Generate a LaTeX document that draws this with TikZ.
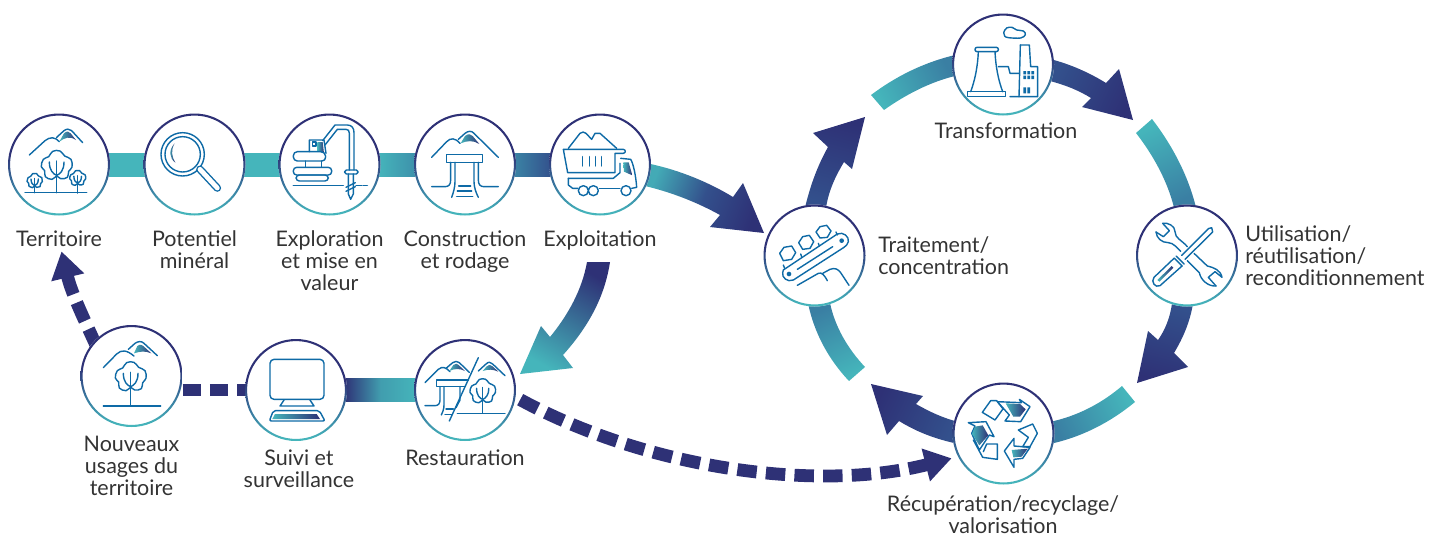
\documentclass[tikz,border=0pt]{standalone}
\usepackage{fontspec}
\setmainfont{Lato}
\usetikzlibrary{calc,backgrounds,arrows.meta}
\definecolor{navyc}{HTML}{2E3176}
\definecolor{tealc}{HTML}{45B5BB}
\definecolor{midc}{HTML}{3A7FA3}
\definecolor{darkc}{HTML}{33508C}
\definecolor{icob}{HTML}{0E6AA6}
\definecolor{txtc}{HTML}{333333}
\pgfdeclareverticalshading{ringsh}{100bp}{color(0bp)=(tealc); color(26bp)=(tealc); color(38bp)=(midc); color(55bp)=(navyc); color(100bp)=(navyc)}
\tikzset{
  stage/.style={circle,minimum size=76.5pt,inner sep=0pt,outer sep=0pt,fill=white,
    path picture={\shade[shading=ringsh,even odd rule] (path picture bounding box.center) circle (38.25pt) (path picture bounding box.center) circle (36.7pt);}},
  lab/.style={align=center,text=txtc,inner sep=0pt,font=\fontsize{16.1}{16.5}\selectfont},
  labl/.style={align=left,text=txtc,inner sep=0pt,anchor=west,font=\fontsize{16.1}{16.5}\selectfont},
  flow/.style n args={3}{bottom color=#1,top color=#2,shading angle=#3,draw=none},
  bar/.style 2 args={left color=#1,right color=#2,draw=none},
  dashline/.style={draw=navyc,line width=9.6pt},
  ico/.style={draw=icob,line width=1.05pt,line join=round,line cap=round,fill=none},
  swoosh/.style={left color=tealc,right color=navyc,draw=none},
  zm/.style 2 args={shift={(#1,#2)},x=.25pt,y=-.25pt},
  treeico/.pic={
    \draw[ico] plot[smooth cycle,tension=.7] coordinates {(-12,-44) (10,-45) (24,-30) (43,-20) (46,3) (36,16) (32,34) (12,38) (0,30) (-14,40) (-34,32) (-36,14) (-46,2) (-40,-20) (-24,-28)};
    \draw[ico] (0,-15) -- (0,#1);
    \draw[ico] (-22,-12) .. controls (-22,14) and (-10,24) .. (0,28);
    \draw[ico] (22,-12) .. controls (22,14) and (10,24) .. (0,28);
  }
}
\begin{document}
\begin{tikzpicture}[x=.75pt,y=-.75pt]
\useasboundingbox (0,0) rectangle (1430,536);
% stages
\node[stage] (terr) at (59,164.5) {};
\node[stage] (pot) at (194.5,164.5) {};
\node[stage] (expl) at (329.5,164.5) {};
\node[stage] (constr) at (465,164.5) {};
\node[stage] (exploit) at (600,164.5) {};
\node[stage] (nouv) at (131.5,376) {};
\node[stage] (suivi) at (296,390) {};
\node[stage] (rest) at (465,390) {};
\node[stage] (trait) at (814.5,255.5) {};
\node[stage] (transf) at (1003,64.5) {};
\node[stage] (util) at (1187,255.5) {};
\node[stage] (recup) at (1003.5,433.5) {};
% labels
\node[lab] (lterr) at (59,239) {Territoire};
\node[lab] (lpot) at (194.5,250) {Potentiel\\minéral};
\node[lab] (lexpl) at (329.5,261) {Exploration\\et mise en\\valeur};
\node[lab] (lconstr) at (465,251.5) {Construction\\et rodage};
\node[lab] (lexploit) at (600,240.5) {Exploitation};
\node[lab] (lnouv) at (131.5,465.5) {Nouveaux\\usages du\\territoire};
\node[lab] (lsuivi) at (299,469) {Suivi et\\surveillance};
\node[lab] (lrest) at (465,458) {Restauration};
\node[lab] (ltransf) at (1006,131) {Transformation};
\node[labl] (ltrait) at (878,256) {Traitement/\\concentration};
\node[labl] (lutil) at (1245,255.5) {Utilisation/\\réutilisation/\\reconditionnement};
\node[lab] (lrecup) at (1003,514.5) {Récupération/recyclage/\\valorisation};
% connectors
\begin{scope}[on background layer]
\shade[left color=tealc,right color=tealc,draw=none] ($(terr.east)+(-3,-11.5)$) rectangle ($(pot.west)+(3,11.5)$);
\shade[left color=tealc,right color=tealc,draw=none] ($(pot.east)+(-3,-11.5)$) rectangle ($(expl.west)+(3,11.5)$);
\shade[bar={tealc}{midc!70!tealc}] ($(expl.east)+(-3,-11.5)$) rectangle ($(constr.west)+(3,11.5)$);
\shade[bar={midc!90!tealc}{darkc}] ($(constr.east)+(-3,-11.5)$) rectangle ($(exploit.west)+(3,11.5)$);
\shade[left color=navyc,right color=tealc,middle color=tealc!82!navyc,draw=none] ($(suivi.east)+(-3,-11.5)$) rectangle ($(rest.west)+(3,11.5)$);
% Exploitation -> Traitement
\shade[flow={tealc!80!midc}{navyc}{-111},middle color=darkc] ($(exploit)+(48,-1)$) .. controls (680,170) and (710,183) .. (733,197) -- (743,183) -- ($(trait)+(-50.5,-22.5)$) -- (710,227) -- (720,215) .. controls (700,204) and (675,193) .. ($(exploit)+(43,21)$) -- cycle;
% Exploitation -> Restauration
\shade[flow={navyc}{tealc}{-210}] ($(exploit)+(-13,97.5)$) -- ($(exploit)+(10,97.5)$) .. controls (605,295) and (590,325) .. (563,355) -- (573,368) -- ($(rest)+(55,-16)$) -- (541,326) -- (550,337) .. controls (568,315) and (582,290) .. ($(exploit)+(-13,97.5)$) -- cycle;
% Traitement -> Transformation
\shade[flow={darkc}{navyc}{-15}] ($(trait)+(-9.5,-48)$) .. controls (811,183) and (818,165) .. (828,147) -- (813,133) -- ($(transf)+(-138,52.5)$) -- (852,169) -- (844,162) .. controls (835,177) and (829,190) .. ($(trait)+(11.5,-48)$) -- cycle;
% Transformation left bar
\shade[flow={tealc}{midc}{-65}] (871,95) .. controls (895,77) and (922,63) .. ($(transf)+(-48,-9.5)$) -- ($(transf)+(-48,11.5)$) .. controls (930,82) and (905,95) .. (884,110) -- cycle;
% Transformation -> Utilisation
\shade[flow={darkc}{navyc}{-115}] ($(transf)+(47,-5.5)$) .. controls (1070,64) and (1090,73) .. (1106,83) -- (1119,69) -- (1133,120) -- (1082,107) -- (1091,98) .. controls (1078,90) and (1065,85) .. ($(transf)+(47,16.5)$) -- cycle;
% Utilisation top bar
\shade[flow={tealc}{midc}{-155}] (1152,119) .. controls (1172,145) and (1188,175) .. ($(util)+(9,-48)$) -- ($(util)+(-13,-48)$) .. controls (1167,180) and (1153,155) .. (1136,133) -- cycle;
% Utilisation -> Recuperation
\shade[flow={darkc}{navyc}{-195}] ($(util)+(-15,48)$) -- ($(util)+(6,48)$) .. controls (1190,322) and (1183,338) .. (1174,353) -- (1188,367) -- (1137,383) -- (1148,331) -- (1158,340) .. controls (1165,330) and (1170,318) .. ($(util)+(-15,48)$) -- cycle;
% Recuperation right bar
\shade[flow={midc}{tealc}{-65}] ($(recup)+(46,-11.5)$) .. controls (1078,416) and (1102,403) .. (1122,386) -- (1135,402) .. controls (1112,421) and (1083,437) .. ($(recup)+(46,10.5)$) -- cycle;
% Recuperation -> Traitement
\shade[flow={darkc}{navyc}{65}] ($(recup)+(-45,-11.5)$) .. controls (943,418) and (930,412) .. (916,404) -- (923,396) -- (871,384) -- (887,435) -- (899,421) .. controls (917,432) and (935,439) .. ($(recup)+(-45,10.5)$) -- cycle;
% Traitement lower bar
\shade[flow={midc}{tealc}{-155}] ($(trait)+(15.5,47.5)$) .. controls (835,327) and (848,349) .. (865,367) -- (849,381) .. controls (829,360) and (814,333) .. ($(trait)+(-6.5,47.5)$) -- cycle;
% dashed
\draw[dashline,dash pattern=on 13.5pt off 7.1pt] (suivi.west -| nouv.east) -- (suivi.west);
\draw[dashline,dash pattern=on 15pt off 6.75pt,shorten <=-5pt,shorten >=28pt,-{Triangle[length=20pt,width=24pt]}] (nouv.137) .. controls (86,323) and (72,295) .. (terr.-97);
\draw[dashline,dash pattern=on 14.6pt off 6.9pt,shorten <=4pt,shorten >=5pt,-{Triangle[length=20pt,width=24pt]}] (rest.-8) .. controls (650,470) and (820,492) .. (recup.207);
\end{scope}
% Territoire icon
\begin{scope}[zm={0}{100}]
\draw[ico] (88,165) -- (135,122) .. controls (150,110) and (165,110) .. (178,125);
\draw[ico] (170,112) -- (192,92) .. controls (200,86) and (208,86) .. (215,92) -- (248,128);
\shade[swoosh] (178,125) -- (192,100) .. controls (200,92) and (208,94) .. (212,100) -- (228,120) .. controls (210,108) and (195,112) .. cycle;
\pic at (170,198) {treeico={80}};
\pic[scale=.5] at (104,243) {treeico={70}};
\pic[scale=.52] at (233,235) {treeico={85}};
\draw[ico] (75,278) -- (260,278);
% magnifier
\draw[ico] (548,163) circle (65);
\draw[ico] (548,163) circle (53);
\shade[swoosh] (524,130) .. controls (505,150) and (508,175) .. (526,188) .. controls (515,170) and (512,150) .. cycle;
\draw[draw=icob,line width=1.05pt,double=white,double distance=3.6pt,line cap=round] (600,208) -- (652,264);
% excavator
\draw[ico] (968,122) -- (1005,75) -- (1042,75) .. controls (1056,75) and (1062,85) .. (1062,98) -- (1062,210);
\draw[ico] (975,135) -- (1012,88) -- (1038,88) .. controls (1045,88) and (1048,92) .. (1048,100) -- (1048,210);
\draw[ico] (928,155) -- (928,120) -- (972,120) -- (978,160);
\shade[swoosh] (952,126) -- (968,126) -- (972,160) -- (952,153) -- cycle;
\draw[ico] (938,126) rectangle (948,138);
\draw[ico,rounded corners=3pt] (880,155) -- (975,155) -- (978,183) -- (880,183) -- cycle;
\draw[ico] (917,183) -- (917,200) (965,183) -- (965,200);
\draw[ico,rounded corners=2.5pt] (880,202) rectangle (995,225);
\draw[ico,rounded corners=2.5pt] (888,225) rectangle (985,243);
\draw[ico] (880,257) -- (1030,257) (1068,257) -- (1085,257) (1090,257) -- (1102,257);
\draw[ico,rounded corners=1.2pt] (1034,210) rectangle (1074,222);
\draw[ico] (1045,222) -- (1045,282) -- (1052,298) -- (1060,282) -- (1060,222);
\draw[ico] (1038,262) -- (1066,248) (1038,274) -- (1066,260);
\end{scope}
% Construction + truck
\begin{scope}[zm={400}{100}]
\draw[ico] (95,172) -- (140,125) .. controls (152,113) and (165,113) .. (180,130);
\draw[ico] (175,118) -- (195,100) .. controls (205,92) and (215,92) .. (222,100) -- (295,172);
\shade[swoosh] (182,130) -- (195,108) .. controls (205,100) and (213,102) .. (218,108) -- (238,132) .. controls (220,120) and (200,122) .. cycle;
\draw[ico] (140,163) rectangle (248,187);
\draw[ico] (152,187) -- (152,240) .. controls (152,255) and (145,260) .. (135,260) -- (95,260);
\draw[ico] (165,187) -- (165,245) .. controls (165,262) and (160,278) .. (155,292);
\draw[ico] (222,187) -- (222,245) .. controls (222,262) and (228,278) .. (235,292);
\draw[ico] (235,187) -- (235,240) .. controls (235,255) and (242,260) .. (252,260) -- (295,260);
\draw[ico] (176,258) -- (212,258) (172,273) -- (215,273) (170,290) -- (218,290);
% truck
\draw[ico] (505,145) -- (540,100) .. controls (546,95) and (553,95) .. (558,100) -- (575,118) -- (585,100) -- (600,100) -- (650,145);
\draw[ico] (490,148) -- (670,148) .. controls (678,150) and (678,158) .. (670,160) -- (645,160) -- (645,218) -- (503,218) -- cycle;
\draw[ico] (548,170) -- (548,198) (568,170) -- (568,198) (586,170) -- (586,198) (604,170) -- (604,198);
\draw[ico] (662,175) -- (692,178) .. controls (700,190) and (708,230) .. (710,262) -- (695,265);
\shade[swoosh] (670,187) -- (686,187) -- (697,226) -- (672,215) -- cycle;
\draw[ico] (505,235) -- (640,235) -- (660,218) -- (660,190);
\draw[ico] (505,235) -- (505,255) -- (518,265) -- (534,265);
\draw[ico] (550,272) circle (15) (580,272) circle (15) (678,272) circle (15);
\draw[ico] (598,265) -- (660,265);
\end{scope}
% Nouveaux, computer, restauration
\begin{scope}[zm={60}{320}]
\draw[ico] (130,143) -- (170,102) .. controls (185,88) and (200,90) .. (222,108);
\draw[ico] (205,88) -- (225,70) .. controls (235,63) and (245,63) .. (252,70) -- (292,107);
\shade[swoosh] (222,100) -- (232,78) .. controls (240,72) and (246,74) .. (250,78) -- (274,100) .. controls (255,92) and (240,94) .. cycle;
\pic[scale=1] at (212,172) {treeico={86}};
\draw[ico] (130,258) -- (302,258);
\draw[ico,rounded corners=3pt] (630,118) rectangle (792,238);
\draw[ico] (672,240) -- (660,258) -- (762,258) -- (750,240);
\draw[ico,rounded corners=1.5pt] (640,272) -- (778,272) -- (795,303) -- (628,303) -- cycle;
\shade[left color=tealc,right color=navyc,draw=none] (645,282) -- (770,282) -- (780,297) -- (637,297) -- cycle;
\end{scope}
\begin{scope}[zm={410}{335}]
\draw[ico] (45,143) -- (85,103) .. controls (97,93) and (108,97) .. (120,110);
\draw[ico] (108,100) -- (128,83) .. controls (135,78) and (142,78) .. (148,83) -- (178,112);
\shade[swoosh] (118,108) -- (130,90) .. controls (137,84) and (142,86) .. (146,90) -- (165,108) .. controls (150,100) and (133,100) .. cycle;
\draw[ico] (205,68) -- (118,258);
\draw[ico] (205,108) -- (228,87) .. controls (235,80) and (242,80) .. (248,87) -- (285,122);
\shade[swoosh] (218,108) -- (230,94) .. controls (238,88) and (244,90) .. (248,94) -- (265,110) .. controls (250,103) and (235,102) .. cycle;
\draw[ico] (175,135) -- (80,135) -- (80,155) -- (165,155);
\draw[ico] (45,212) -- (75,212) .. controls (85,212) and (90,205) .. (90,195) -- (90,155);
\draw[ico] (102,155) -- (102,210) .. controls (102,222) and (98,232) .. (94,240);
\draw[ico] (150,155) -- (150,195) -- (138,218);
\draw[ico] (108,222) -- (130,222) (105,238) -- (125,238);
\pic[scale=.83] at (218,170) {treeico={78}};
\draw[ico] (142,235) -- (285,235);
\end{scope}
% Traitement icon
\begin{scope}[zm={750}{100}]
\draw[ico] (100,510) -- (262,402) .. controls (280,394) and (298,410) .. (295,425) .. controls (293,433) and (288,438) .. (282,442) -- (130,540) .. controls (112,548) and (95,532) .. (98,518) -- cycle;
\fill[icob] (117,522) circle (7) (275,422) circle (7);
\draw[ico] (142,508) -- (248,440);
\draw[ico] (102,442) -- (125,438) -- (137,458) -- (125,478) -- (100,482) -- (89,460) -- cycle;
\draw[ico] (158,410) -- (178,406) -- (191,425) -- (180,445) -- (158,448) -- (146,428) -- cycle;
\draw[ico] (210,380) -- (230,376) -- (243,393) -- (232,412) -- (210,414) -- (198,396) -- cycle;
\draw[ico] (100,495) -- (104,505) (152,462) -- (155,470) (205,430) -- (208,438) (258,396) -- (262,405);
\draw[ico] (142,556) -- (205,520) .. controls (215,515) and (225,528) .. (232,542);
\draw[ico] (218,520) -- (240,508) .. controls (255,502) and (265,508) .. (272,518) -- (297,556);
\end{scope}
% Transformation icon
\begin{scope}[zm={860}{0}]
\draw[ico,rounded corners=1.5pt] (345,142) rectangle (415,155);
\draw[ico] (355,155) .. controls (353,200) and (345,240) .. (332,275);
\draw[ico] (405,155) .. controls (407,200) and (415,240) .. (428,275);
\draw[ico] (323,275) rectangle (437,290);
\draw[ico] (415,200) -- (445,200) -- (450,220) -- (478,220);
\draw[ico] (481,135) -- (508,135) -- (512,200) -- (533,200) -- (533,290) -- (450,290);
\draw[ico] (481,135) -- (477,290);
\fill[icob] (490,213) rectangle (498,223) (502,213) rectangle (510,223) (514,213) rectangle (522,223)
 (490,227) rectangle (498,237) (502,227) rectangle (510,237) (514,227) rectangle (522,237)
 (490,262) rectangle (498,280) (502,262) rectangle (510,280);
\draw[ico] plot[smooth cycle,tension=.6] coordinates {(431,98) (440,84) (456,82) (470,90) (490,93) (496,104) (482,114) (445,113) (434,108)};
\end{scope}
% Tools icon
\begin{scope}[zm={1100}{190}]
\draw[ico] (325,116) -- (245,196) (338,126) -- (255,208) (325,116) -- (335,113) -- (338,126);
\draw[ico] (228,198) -- (252,222) (222,204) -- (246,228);
\draw[ico] (222,205) -- (162,262) .. controls (152,275) and (165,295) .. (180,287) -- (246,228);
\shade[swoosh] (172,270) -- (215,228) -- (220,233) -- (178,275) -- cycle;
\draw[ico] (188,100) .. controls (205,97) and (225,108) .. (225,125) .. controls (225,145) and (245,150) .. (262,170);
\draw[ico] (188,100) -- (208,122) -- (190,140) -- (168,126);
\draw[ico] (168,126) .. controls (170,145) and (185,158) .. (205,158) .. controls (220,158) and (232,175) .. (242,184);
\draw[ico] (282,190) -- (322,228) .. controls (340,232) and (362,240) .. (366,262) -- (345,245) -- (325,262) -- (348,288);
\draw[ico] (262,212) -- (298,248) .. controls (302,270) and (325,290) .. (348,288);
\end{scope}
% Recycle icon
\begin{scope}[zm={860}{370}]
\draw[ico] (430,118) -- (410,92) -- (392,92) -- (367,127) -- (405,150) -- (428,118);
\draw[ico] (412,95) -- (484,98) -- (478,88) -- (510,110) -- (482,155) -- (435,153) -- (448,135) -- cycle;
\shade[swoosh] (437,100) -- (480,102) -- (497,118) -- (480,140) -- (460,140) -- cycle;
\draw[ico] (325,158) -- (378,155) -- (402,200) -- (388,195) -- (358,240) -- (335,190) -- (345,168) -- cycle;
\shade[swoosh] (345,170) -- (368,166) -- (385,196) -- (358,226) -- (336,192) -- cycle;
\draw[ico] (340,210) -- (368,262) -- (412,268) -- (412,222) -- (380,222) -- (370,245);
\draw[ico] (475,180) -- (518,162) -- (532,190) -- (510,230) -- (488,230) -- (505,202) -- cycle;
\draw[ico] (433,243) -- (462,205) -- (462,228) -- (510,232) -- (488,265) -- (462,268) -- (462,292) -- cycle;
\shade[swoosh] (455,240) -- (503,236) -- (485,260) -- (460,262) -- cycle;
\end{scope}
\end{tikzpicture}
\end{document}
